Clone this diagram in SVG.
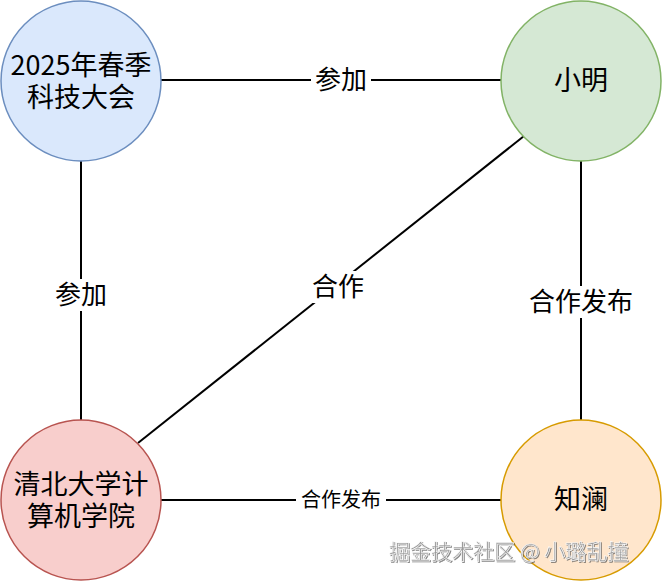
<svg xmlns="http://www.w3.org/2000/svg" width="662" height="582" viewBox="0 0 662 582">
<defs>
<style>
text{font-family:"Noto Sans CJK SC","Liberation Sans",sans-serif;fill:#000;text-anchor:middle}
.node{font-size:27px}
.lbl{font-size:26px}
.lbl2{font-size:20px}
.edge{stroke:#000;stroke-width:2;fill:none}
.bg{fill:#fff}
.wm{font-size:21px;fill:#9a9a9a;stroke:#fff;stroke-width:0.6;text-anchor:start}
</style>
<filter id="sh" x="-5%" y="-20%" width="110%" height="140%">
<feDropShadow dx="1" dy="1" stdDeviation="0.4" flood-color="#555" flood-opacity="0.7"/>
</filter>
</defs>
<g id="edges">
<line class="edge" x1="161" y1="80" x2="501" y2="80"/>
<line class="edge" x1="81" y1="160" x2="81" y2="420"/>
<line class="edge" x1="581" y1="160" x2="581" y2="420"/>
<line class="edge" x1="524" y1="136" x2="138" y2="443"/>
<line class="edge" x1="161" y1="500" x2="501" y2="500"/>
<rect class="bg" x="311" y="64" width="60" height="32"/>
<text class="lbl" x="341" y="89">参加</text>
<rect class="bg" x="51" y="279" width="60" height="32"/>
<text class="lbl" x="81" y="304">参加</text>
<rect class="bg" x="524" y="286" width="114" height="32"/>
<text class="lbl" x="581" y="311">合作发布</text>
<rect class="bg" x="309" y="271" width="58" height="32"/>
<text class="lbl" x="338" y="296">合作</text>
<rect class="bg" x="296" y="488" width="90" height="24"/>
<text class="lbl2" x="341" y="507">合作发布</text>
</g>
<g id="node-conf">
<circle cx="81" cy="81" r="80" fill="#dae8fc" stroke="#6c8ebf" stroke-width="1.5"/>
<text class="node" x="81" y="75">2025年春季<tspan x="81" dy="32">科技大会</tspan></text>
</g>
<g id="node-xiaoming">
<circle cx="581" cy="81" r="80" fill="#d5e8d4" stroke="#82b366" stroke-width="1.5"/>
<text class="node" x="581" y="90">小明</text>
</g>
<g id="node-tsinghua">
<circle cx="81" cy="500" r="80" fill="#f8cecc" stroke="#b85450" stroke-width="1.5"/>
<text class="node" x="81" y="494">清北大学计<tspan x="81" dy="32">算机学院</tspan></text>
</g>
<g id="node-zhilan">
<circle cx="581" cy="500" r="80" fill="#ffe6cc" stroke="#d79b00" stroke-width="1.5"/>
<text class="node" x="581" y="509">知澜</text>
</g>
<text class="wm" x="389" y="559" filter="url(#sh)">掘金技术社区 @ 小璐乱撞</text>
</svg>
